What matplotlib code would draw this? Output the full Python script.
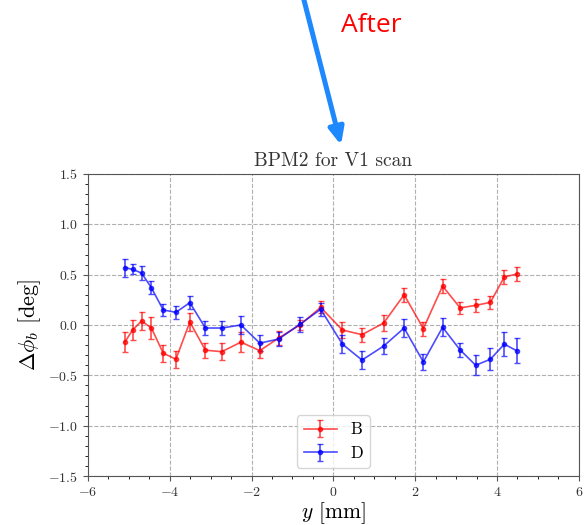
import numpy as np
import matplotlib
matplotlib.use("Agg")
import matplotlib.pyplot as plt

plt.rcParams['font.family'] = 'serif'
plt.rcParams['font.serif'] = ['cmr10']
plt.rcParams['mathtext.fontset'] = 'cm'
plt.rcParams['axes.formatter.use_mathtext'] = True

# scan positions (mm)
y_pos = [-5.10, -4.91, -4.69, -4.45, -4.16, -3.85, -3.51, -3.13, -2.73, -2.26, -1.80, -1.34,
         -0.82, -0.31, 0.22, 0.70, 1.23, 1.73, 2.20, 2.67, 3.10, 3.48, 3.84, 4.18, 4.48]

phi_B = [-0.17, -0.05, 0.04, -0.03, -0.28, -0.34, 0.03, -0.25, -0.265, -0.17, -0.255, -0.13,
         0.00, 0.175, -0.05, -0.096, 0.02, 0.30, -0.036, 0.387, 0.17, 0.195, 0.225, 0.477, 0.506]
err_B = [0.10, 0.10, 0.094, 0.11, 0.084, 0.084, 0.09, 0.076, 0.084, 0.096, 0.075, 0.066,
         0.05, 0.06, 0.078, 0.07, 0.076, 0.071, 0.07, 0.07, 0.06, 0.065, 0.066, 0.071, 0.066]

phi_D = [0.57, 0.553, 0.516, 0.37, 0.149, 0.126, 0.222, -0.03, -0.03, 0.0, -0.18, -0.14,
         0.007, 0.156, -0.19, -0.348, -0.209, -0.03, -0.367, -0.023, -0.248, -0.40, -0.34, -0.19, -0.255]
err_D = [0.09, 0.05, 0.07, 0.063, 0.06, 0.063, 0.068, 0.065, 0.07, 0.093, 0.076, 0.07,
         0.075, 0.066, 0.088, 0.086, 0.078, 0.094, 0.076, 0.09, 0.07, 0.10, 0.11, 0.12, 0.124]

fig = plt.figure(figsize=(5.84, 5.25), dpi=100)
ax = fig.add_axes([0.1507, 0.0933, 0.8403, 0.5753])

ax.errorbar(y_pos, phi_B, yerr=err_B, fmt='o-', color='r', ms=3, lw=1.2, capsize=2, alpha=0.7, label='B')
ax.errorbar(y_pos, phi_D, yerr=err_D, fmt='o-', color='b', ms=3, lw=1.2, capsize=2, alpha=0.7, label='D')

ax.set_xlim(-6, 6)
ax.set_ylim(-1.5, 1.5)
ax.set_xticks([-6, -4, -2, 0, 2, 4, 6])
ax.set_yticks([-1.5, -1.0, -0.5, 0.0, 0.5, 1.0, 1.5])
ax.set_xticks(np.arange(-6, 6.01, 0.5), minor=True)
ax.set_yticks(np.arange(-1.5, 1.51, 0.1), minor=True)
ax.tick_params(labelsize=10, color='#555555', labelcolor='#333333')
ax.grid(True, ls='--', color='#b0b0b0', lw=0.8)
for s in ax.spines.values():
    s.set_color('#555555')

ax.set_title('BPM2 for V1 scan', fontsize=14, color='#333333')
ax.set_xlabel(r'$y$ [mm]', fontsize=15.5, labelpad=1)
ax.set_ylabel(r'$\Delta\phi_b$ [deg]', fontsize=16)
ax.legend(loc='lower center', fontsize=12)

fig.text(371/584, 1 - 25/525, 'After', color='red', fontsize=19, family='Open Sans',
         ha='center', va='center')
ax.annotate('', xy=(341/584, 1 - 145/525), xycoords='figure fraction',
            xytext=(302.7/584, 1 + 5/525), textcoords='figure fraction',
            arrowprops=dict(arrowstyle='-|>,head_width=0.45,head_length=1.0', lw=3.6,
                            color='#1E88FF', shrinkA=0, shrinkB=0, mutation_scale=10),
            annotation_clip=False)

fig.savefig('out.png', dpi=100)
